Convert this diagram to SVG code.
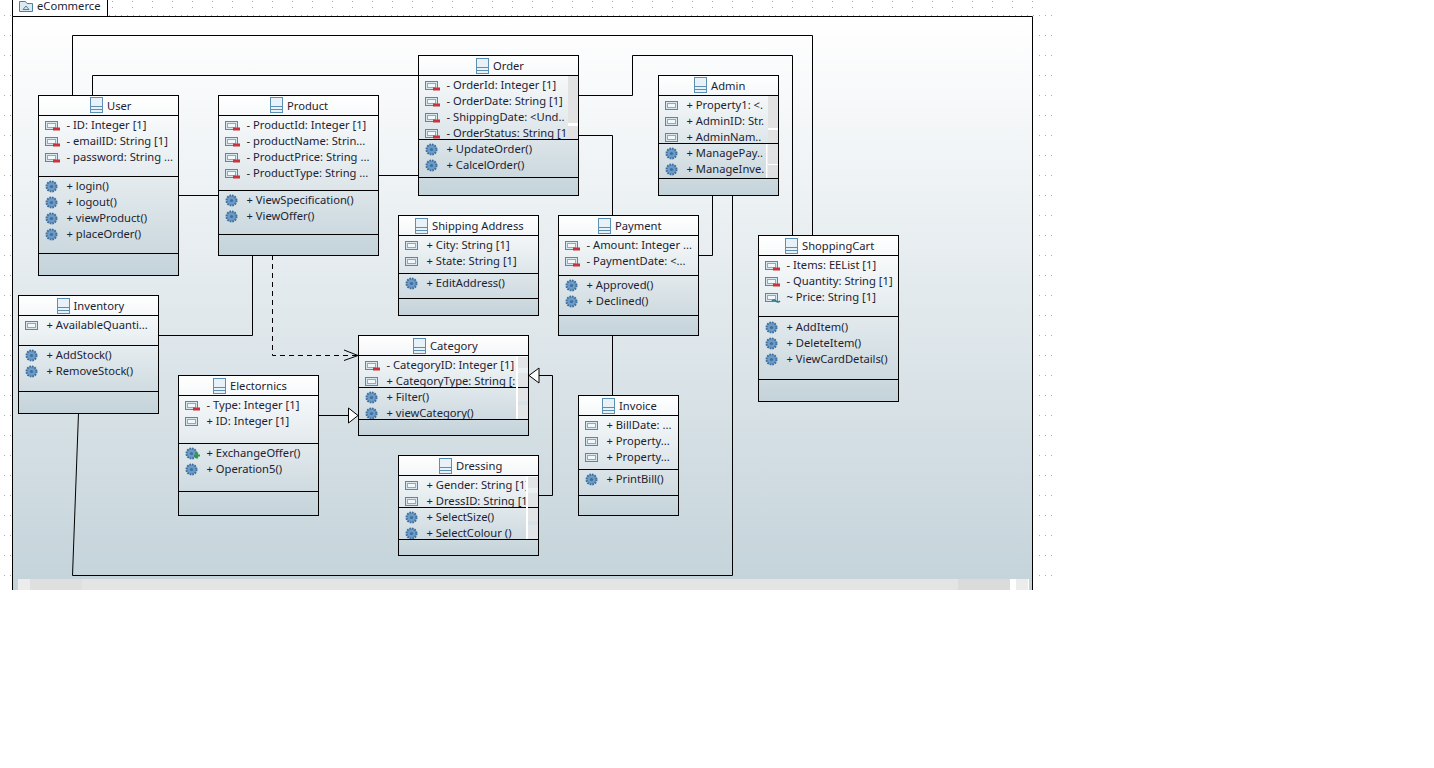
<svg xmlns="http://www.w3.org/2000/svg" width="1434" height="768" viewBox="0 0 1434 768">
<style>
text{font-family:"Noto Sans","Open Sans","Liberation Sans",sans-serif;font-size:11.2px;fill:#1b2333}
.box{fill:url(#ng);stroke:#000;stroke-width:1}
.div{stroke:#000;stroke-width:1;fill:none}
.c{stroke:#000;stroke-width:1;fill:none}
.sb{fill:#e2e2e2}
.sl{fill:#e2e4e5}
.sw{fill:#fff}
</style>
<defs>
<linearGradient id="ng" x1="0" y1="0" x2="0" y2="1"><stop offset="0" stop-color="#fff"/><stop offset="1" stop-color="#c4d3da"/></linearGradient>
<linearGradient id="pg" x1="0" y1="0" x2="0" y2="1"><stop offset="0" stop-color="#fff"/><stop offset="1" stop-color="#c4d3da"/></linearGradient>
<pattern id="dtop" width="20" height="20" patternUnits="userSpaceOnUse" x="12" y="-3"><rect x="0" y="4" width="1" height="1" fill="#aaa"/><rect x="0" y="10" width="1" height="1" fill="#aaa"/></pattern>
<pattern id="dline" width="6" height="20" patternUnits="userSpaceOnUse" x="1" y="15"><rect x="0" y="0" width="1" height="1" fill="#aaa"/></pattern>
<pattern id="dleft" width="6" height="20" patternUnits="userSpaceOnUse" x="4" y="15"><rect x="0" y="0" width="1" height="1" fill="#aaa"/></pattern>
<g id="cls"><rect x="0.500" y="0.500" width="12" height="15" fill="#e8f1f7" stroke="#5b8fb3"/><path d="M0.500 9.500H12.500M0.500 12.500H12.500" stroke="#5b8fb3" fill="none"/></g>
<g id="pub"><rect x="0.500" y="0.500" width="12" height="8" fill="#d9e8f0" stroke="#4f8bad"/><rect x="2.500" y="2.500" width="8" height="4" fill="#f2f7fa" stroke="#7fb0c8"/></g>
<g id="prv"><use href="#pub"/><rect x="8" y="6.500" width="7" height="3" fill="#c8343c"/></g>
<g id="pkg"><path d="M0.500 2.500H6.500L8 4.500H13.500V12.500H0.500Z" fill="#dde9f1" stroke="#4f7f9f"/><path d="M4 10.500L7 7L10 10.500Z" fill="none" stroke="#4f7f9f"/></g>
<g id="op"><circle cx="6.500" cy="6.500" r="5" fill="#6e9bc6" stroke="#3d6f9f" stroke-width="2" stroke-dasharray="1.700 0.900"/><circle cx="6.500" cy="6.500" r="1.600" fill="#3d6f9f"/></g>
<clipPath id="cOrd"><rect x="419" y="76" width="149" height="63"/></clipPath>
<clipPath id="cAdm1"><rect x="659" y="96" width="107" height="47"/></clipPath>
<clipPath id="cCat1"><rect x="359" y="356" width="158" height="31"/></clipPath>
<clipPath id="cCat2"><rect x="359" y="388" width="158" height="31"/></clipPath>
<clipPath id="cDr1"><rect x="399" y="476" width="127" height="31"/></clipPath>
<clipPath id="cDr2"><rect x="399" y="508" width="127" height="31"/></clipPath>
</defs>

<rect x="108" y="0" width="944" height="13" fill="url(#dtop)"/>
<rect x="108" y="14" width="944" height="2" fill="url(#dline)"/>
<rect x="4" y="15" width="7" height="565" fill="url(#dleft)"/>
<rect x="1037" y="15" width="15" height="565" fill="url(#dline)"/>

<g id="package-eCommerce">
<rect x="12.500" y="16.500" width="1020" height="573.500" fill="url(#pg)" stroke="none"/>
<path d="M12.500 590V16.500H1032.500V590M12.500 16.500V-1H107.500V16.500" fill="none" stroke="#000"/>
<rect x="13" y="0" width="94" height="16" fill="#fff"/>
<use href="#pkg" x="19" y="-1"/>
<text x="37" y="10">eCommerce</text>
<rect x="18" y="579" width="1002" height="11" fill="#e5e4e4"/>
<rect x="18" y="579" width="12" height="11" fill="#ececec"/>
<rect x="30" y="579" width="52" height="11" fill="#dfdfdf"/>
<rect x="958" y="579" width="52" height="11" fill="#dcdbdb"/>
<rect x="1010" y="579" width="6" height="11" fill="#fff"/>
<rect x="1016" y="579" width="12" height="11" fill="#ececec"/>
<rect x="1028" y="579" width="1" height="11" fill="#fff"/>
</g>

<g id="connectors">
<path class="c" d="M72.500 95V35.500H812.500V235"/>
<path class="c" d="M92.500 95V75.500H418"/>
<path class="c" d="M178 195.500H218"/>
<path class="c" d="M378 175.500H418"/>
<path class="c" d="M578 95.500H632.500V55.500H792.500V235"/>
<path class="c" d="M578 135.500H612.500V215"/>
<path class="c" d="M712.500 195V255.500H698"/>
<path class="c" d="M732.500 195V575.500H72.500L78.500 413"/>
<path class="c" d="M252.500 255V335.500H158"/>
<path class="c" stroke-dasharray="5 4" d="M272.500 255V355.500H357"/>
<path class="c" d="M344 350L358 355.500L344 360.500"/>
<path class="c" d="M318 415.500H348"/>
<path class="c" style="fill:#fff" d="M348.500 408L358 415.500L348.500 423Z"/>
<path class="c" d="M538 495.500H552.500V375.500H539"/>
<path class="c" style="fill:#fff" d="M539 368L529 375.500L539 383Z"/>
<path class="c" d="M612.500 335V395"/>
</g>

<g id="node-user">
<rect class="box" x="38.500" y="95.500" width="140" height="180"/>
<path class="div" d="M39 115.500H178M39 176.500H178M39 253.500H178"/>
<use href="#cls" x="90" y="97"/><text x="107" y="110">User</text>
<use href="#prv" x="45" y="121"/><text x="66.500" y="129">- ID: Integer [1]</text>
<use href="#prv" x="45" y="137"/><text x="66.500" y="145">- emailID: String [1]</text>
<use href="#prv" x="45" y="153"/><text x="66.500" y="161">- password: String ...</text>
<use href="#op" x="45" y="180"/><text x="66.500" y="190">+ login()</text>
<use href="#op" x="45" y="196"/><text x="66.500" y="206">+ logout()</text>
<use href="#op" x="45" y="212"/><text x="66.500" y="222">+ viewProduct()</text>
<use href="#op" x="45" y="228"/><text x="66.500" y="238">+ placeOrder()</text>
</g>

<g id="node-product">
<rect class="box" x="218.500" y="95.500" width="160" height="160"/>
<path class="div" d="M219 115.500H378M219 190.500H378M219 234.500H378"/>
<use href="#cls" x="270" y="97"/><text x="287" y="110">Product</text>
<use href="#prv" x="225" y="121"/><text x="246.500" y="129">- ProductId: Integer [1]</text>
<use href="#prv" x="225" y="137"/><text x="246.500" y="145">- productName: Strin...</text>
<use href="#prv" x="225" y="153"/><text x="246.500" y="161">- ProductPrice: String ...</text>
<use href="#prv" x="225" y="169"/><text x="246.500" y="177">- ProductType: String ...</text>
<use href="#op" x="225" y="194"/><text x="246.500" y="204">+ ViewSpecification()</text>
<use href="#op" x="225" y="210"/><text x="246.500" y="220">+ ViewOffer()</text>
</g>

<g id="node-order">
<rect class="box" x="418.500" y="55.500" width="160" height="140"/>
<path class="div" d="M419 75.500H578M419 139.500H578M419 177.500H578"/>
<rect class="sb" x="568" y="76" width="10" height="47"/><rect class="sw" x="568" y="123" width="10" height="3"/><rect class="sb" x="568" y="126" width="10" height="13"/>
<use href="#cls" x="476" y="58"/><text x="493" y="70">Order</text>
<g clip-path="url(#cOrd)">
<use href="#prv" x="425" y="81"/><text x="446.500" y="89">- OrderId: Integer [1]</text>
<use href="#prv" x="425" y="97"/><text x="446.500" y="105">- OrderDate: String [1]</text>
<use href="#prv" x="425" y="113"/><text x="446.500" y="121">- ShippingDate: &lt;Und..</text>
<use href="#prv" x="425" y="129"/><text x="446.500" y="137">- OrderStatus: String [1</text>
</g>
<use href="#op" x="425" y="143"/><text x="446.500" y="153">+ UpdateOrder()</text>
<use href="#op" x="425" y="159"/><text x="446.500" y="169">+ CalcelOrder()</text>
</g>

<g id="node-admin">
<rect class="box" x="658.500" y="75.500" width="120" height="120"/>
<path class="div" d="M659 95.500H778M659 143.500H778M659 178.500H778"/>
<rect class="sb" x="768" y="96" width="10" height="32"/><rect class="sw" x="768" y="128" width="10" height="2"/><rect class="sb" x="768" y="130" width="10" height="13"/>
<rect class="sb" x="768" y="144" width="10" height="20" opacity=".75"/><rect class="sw" x="768" y="164" width="10" height="1"/><rect class="sb" x="768" y="165" width="10" height="13" opacity=".75"/>
<rect class="sw" x="766" y="144" width="1.500" height="34"/>
<use href="#cls" x="694" y="77"/><text x="711" y="90">Admin</text>
<g clip-path="url(#cAdm1)">
<use href="#pub" x="665" y="101"/><text x="686.500" y="109">+ Property1: &lt;.</text>
<use href="#pub" x="665" y="117"/><text x="686.500" y="125">+ AdminID: Str.</text>
<use href="#pub" x="665" y="133"/><text x="686.500" y="141">+ AdminNam..</text>
</g>
<use href="#op" x="665" y="147"/><text x="686.500" y="157">+ ManagePay..</text>
<use href="#op" x="665" y="163"/><text x="686.500" y="173">+ ManageInve.</text>
</g>

<g id="node-shipping-address">
<rect class="box" x="398.500" y="215.500" width="140" height="100"/>
<path class="div" d="M399 235.500H538M399 273.500H538M399 298.500H538"/>
<use href="#cls" x="415" y="218"/><text x="432" y="230">Shipping Address</text>
<use href="#pub" x="405" y="241"/><text x="426.500" y="249">+ City: String [1]</text>
<use href="#pub" x="405" y="257"/><text x="426.500" y="265">+ State: String [1]</text>
<use href="#op" x="405" y="277"/><text x="426.500" y="287">+ EditAddress()</text>
</g>

<g id="node-payment">
<rect class="box" x="558.500" y="215.500" width="140" height="120"/>
<path class="div" d="M559 235.500H698M559 275.500H698M559 315.500H698"/>
<use href="#cls" x="598" y="218"/><text x="615" y="230">Payment</text>
<use href="#prv" x="565" y="241"/><text x="586.500" y="249">- Amount: Integer ...</text>
<use href="#prv" x="565" y="257"/><text x="586.500" y="265">- PaymentDate: &lt;...</text>
<use href="#op" x="565" y="279"/><text x="586.500" y="289">+ Approved()</text>
<use href="#op" x="565" y="295"/><text x="586.500" y="305">+ Declined()</text>
</g>

<g id="node-shopping-cart">
<rect class="box" x="758.500" y="235.500" width="140" height="166"/>
<path class="div" d="M759 255.500H898M759 316.500H898M759 379.500H898"/>
<use href="#cls" x="785" y="238"/><text x="802" y="250">ShoppingCart</text>
<use href="#prv" x="765" y="261"/><text x="786.500" y="269">- Items: EEList [1]</text>
<use href="#prv" x="765" y="277"/><text x="786.500" y="285">- Quantity: String [1]</text>
<use href="#pub" x="765" y="293"/><path d="M772 301q2-2 4 0t4 0" fill="none" stroke="#2a7a8a" stroke-width="1.500"/><text x="786.500" y="301">~ Price: String [1]</text>
<use href="#op" x="765" y="321"/><text x="786.500" y="331">+ AddItem()</text>
<use href="#op" x="765" y="337"/><text x="786.500" y="347">+ DeleteItem()</text>
<use href="#op" x="765" y="353"/><text x="786.500" y="363">+ ViewCardDetails()</text>
</g>

<g id="node-inventory">
<rect class="box" x="18.500" y="295.500" width="140" height="118"/>
<path class="div" d="M19 315.500H158M19 345.500H158M19 391.500H158"/>
<use href="#cls" x="57" y="298"/><text x="73.500" y="310">Inventory</text>
<use href="#pub" x="25" y="321"/><text x="46.500" y="329">+ AvailableQuanti...</text>
<use href="#op" x="25" y="349"/><text x="46.500" y="359">+ AddStock()</text>
<use href="#op" x="25" y="365"/><text x="46.500" y="375">+ RemoveStock()</text>
</g>

<g id="node-electronics">
<rect class="box" x="178.500" y="375.500" width="140" height="140"/>
<path class="div" d="M179 395.500H318M179 443.500H318M179 491.500H318"/>
<use href="#cls" x="213" y="378"/><text x="230" y="390">Electornics</text>
<use href="#prv" x="185" y="401"/><text x="206.500" y="409">- Type: Integer [1]</text>
<use href="#pub" x="185" y="417"/><text x="206.500" y="425">+ ID: Integer [1]</text>
<use href="#op" x="185" y="447"/><path d="M197 452.500v6M194 455.500h6" stroke="#2f9a4a" stroke-width="2.200" fill="none"/><text x="206.500" y="457">+ ExchangeOffer()</text>
<use href="#op" x="185" y="463"/><text x="206.500" y="473">+ Operation5()</text>
</g>

<g id="node-category">
<rect class="box" x="358.500" y="335.500" width="170" height="100"/>
<path class="div" d="M359 355.500H528M359 387.500H528M359 419.500H528"/>
<rect class="sw" x="516" y="356" width="2" height="63"/>
<rect class="sl" x="518" y="357" width="10" height="11"/><rect class="sl" x="518" y="373" width="10" height="14"/><rect class="sl" x="518" y="388" width="10" height="13"/><rect class="sl" x="518" y="405" width="10" height="14"/>
<use href="#cls" x="413" y="338"/><text x="430" y="350">Category</text>
<g clip-path="url(#cCat1)">
<use href="#prv" x="365" y="361"/><text x="386.500" y="369">- CategoryID: Integer [1]</text>
<use href="#pub" x="365" y="377"/><text x="386.500" y="385">+ CategoryType: String [:</text>
</g>
<g clip-path="url(#cCat2)">
<use href="#op" x="365" y="391"/><text x="386.500" y="401">+ Filter()</text>
<use href="#op" x="365" y="407"/><text x="386.500" y="417">+ viewCategory()</text>
</g>
</g>

<g id="node-dressing">
<rect class="box" x="398.500" y="455.500" width="140" height="100"/>
<path class="div" d="M399 475.500H538M399 507.500H538M399 539.500H538"/>
<rect class="sw" x="526" y="476" width="2" height="63"/>
<rect class="sl" x="528" y="477" width="10" height="11"/><rect class="sl" x="528" y="493" width="10" height="14"/><rect class="sl" x="528" y="508" width="10" height="13"/><rect class="sl" x="528" y="525" width="10" height="14"/>
<use href="#cls" x="439" y="458"/><text x="456" y="470">Dressing</text>
<g clip-path="url(#cDr1)">
<use href="#pub" x="405" y="481"/><text x="426.500" y="489">+ Gender: String [1]</text>
<use href="#pub" x="405" y="497"/><text x="426.500" y="505">+ DressID: String [1</text>
</g>
<g clip-path="url(#cDr2)">
<use href="#op" x="405" y="511"/><text x="426.500" y="521">+ SelectSize()</text>
<use href="#op" x="405" y="527"/><text x="426.500" y="537">+ SelectColour ()</text>
</g>
</g>

<g id="node-invoice">
<rect class="box" x="578.500" y="395.500" width="100" height="120"/>
<path class="div" d="M579 415.500H678M579 469.500H678M579 495.500H678"/>
<use href="#cls" x="602" y="398"/><text x="619" y="410">Invoice</text>
<use href="#pub" x="585" y="421"/><text x="606.500" y="429">+ BillDate: ...</text>
<use href="#pub" x="585" y="437"/><text x="606.500" y="445">+ Property...</text>
<use href="#pub" x="585" y="453"/><text x="606.500" y="461">+ Property...</text>
<use href="#op" x="585" y="473"/><text x="606.500" y="483">+ PrintBill()</text>
</g>
</svg>
